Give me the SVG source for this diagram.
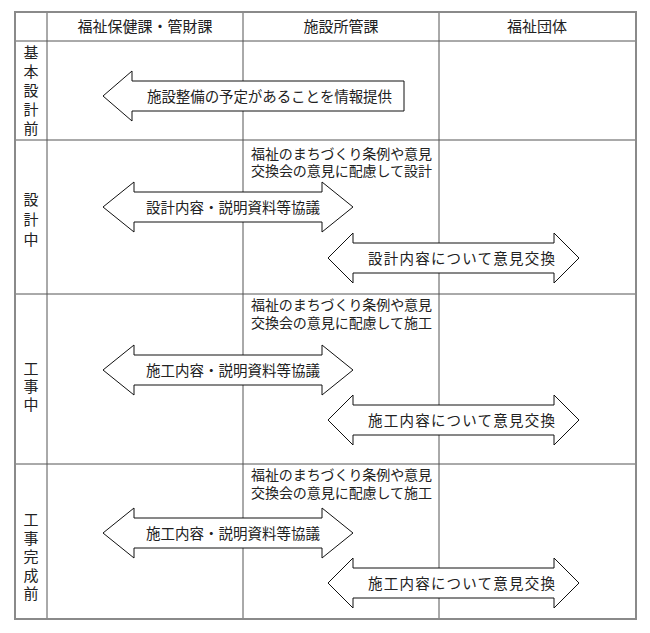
<svg xmlns="http://www.w3.org/2000/svg" xmlns:xlink="http://www.w3.org/1999/xlink" width="650" height="633" viewBox="0 0 650 633">
<style>
  text { font-family: "Noto Sans CJK JP", "Noto Sans CJK SC", sans-serif; fill: #222; }
  .hdr { font-size: 15px; text-anchor: middle; }
  .vl { font-size: 15px; text-anchor: middle; writing-mode: vertical-rl; text-orientation: upright; }
  .lbl { font-size: 14.5px; }
  .note { font-size: 14px; }
  .outer { fill: none; stroke: #8a8a8a; stroke-width: 2; }
  .grid { stroke: #555; stroke-width: 1; fill: none; }
  .arrow { fill: #fff; stroke: #111; stroke-width: 1; }
</style>
<defs>
  <path id="dblA" d="M103,0 L134,-25 L134,-15 L322,-15 L322,-25 L353,0 L322,25 L322,15 L134,15 L134,25 Z"/>
  <path id="dblB" d="M328,0 L353,-25 L353,-15 L554,-15 L554,-25 L579,0 L554,25 L554,15 L353,15 L353,25 Z"/>
</defs>
<rect width="650" height="633" fill="#fff"/>
<g id="table">
  <line class="grid" x1="47" y1="12" x2="47" y2="619"/>
  <line class="grid" x1="243" y1="12" x2="243" y2="619"/>
  <line class="grid" x1="439" y1="12" x2="439" y2="619"/>
  <line class="grid" x1="15" y1="41" x2="636" y2="41"/>
  <line class="grid" x1="15" y1="140" x2="636" y2="140"/>
  <line class="grid" x1="15" y1="294" x2="636" y2="294"/>
  <line class="grid" x1="15" y1="464" x2="636" y2="464"/>
  <rect class="outer" x="15" y="12" width="621" height="607"/>
</g>
<g id="headers">
  <text class="hdr" x="145" y="32">福祉保健課・管財課</text>
  <text class="hdr" x="341" y="32">施設所管課</text>
  <text class="hdr" x="537" y="32">福祉団体</text>
</g>
<g id="row-labels">
  <text class="vl" x="31" y="92" style="letter-spacing:4px">基本設計前</text>
  <text class="vl" x="31" y="222" style="letter-spacing:5px">設計中</text>
  <text class="vl" x="31" y="387.5" style="letter-spacing:3px">工事中</text>
  <text class="vl" x="31" y="558.5" style="letter-spacing:3.5px">工事完成前</text>
</g>
<g id="notes">
  <text class="note"><tspan x="251" y="158.5" textLength="181" lengthAdjust="spacing">福祉のまちづくり条例や意見</tspan><tspan x="251" y="176" textLength="181" lengthAdjust="spacing">交換会の意見に配慮して設計</tspan></text>
  <text class="note"><tspan x="251" y="309.5" textLength="181" lengthAdjust="spacing">福祉のまちづくり条例や意見</tspan><tspan x="251" y="327.5" textLength="181" lengthAdjust="spacing">交換会の意見に配慮して施工</tspan></text>
  <text class="note"><tspan x="251" y="479.5" textLength="181" lengthAdjust="spacing">福祉のまちづくり条例や意見</tspan><tspan x="251" y="497.5" textLength="181" lengthAdjust="spacing">交換会の意見に配慮して施工</tspan></text>
</g>
<g id="arrow-info">
  <path class="arrow" d="M103,96 L132,71 L132,81 L404,81 L404,111 L132,111 L132,121 Z"/>
  <text class="lbl" x="147" y="101.5" textLength="245" lengthAdjust="spacing">施設整備の予定があることを情報提供</text>
</g>
<g id="arrow-design-consult">
  <use href="#dblA" xlink:href="#dblA" class="arrow" y="207"/>
  <text class="lbl" x="146" y="212.5" textLength="174" lengthAdjust="spacing">設計内容・説明資料等協議</text>
</g>
<g id="arrow-design-exchange">
  <use href="#dblB" xlink:href="#dblB" class="arrow" y="258"/>
  <text class="lbl" x="368" y="263.5" textLength="187" lengthAdjust="spacing">設計内容について意見交換</text>
</g>
<g id="arrow-const-consult">
  <use href="#dblA" xlink:href="#dblA" class="arrow" y="370"/>
  <text class="lbl" x="146" y="375.5" textLength="174" lengthAdjust="spacing">施工内容・説明資料等協議</text>
</g>
<g id="arrow-const-exchange">
  <use href="#dblB" xlink:href="#dblB" class="arrow" y="420"/>
  <text class="lbl" x="368" y="425.5" textLength="187" lengthAdjust="spacing">施工内容について意見交換</text>
</g>
<g id="arrow-final-consult">
  <use href="#dblA" xlink:href="#dblA" class="arrow" y="533"/>
  <text class="lbl" x="146" y="538.5" textLength="174" lengthAdjust="spacing">施工内容・説明資料等協議</text>
</g>
<g id="arrow-final-exchange">
  <use href="#dblB" xlink:href="#dblB" class="arrow" y="583"/>
  <text class="lbl" x="368" y="588.5" textLength="187" lengthAdjust="spacing">施工内容について意見交換</text>
</g>
</svg>
